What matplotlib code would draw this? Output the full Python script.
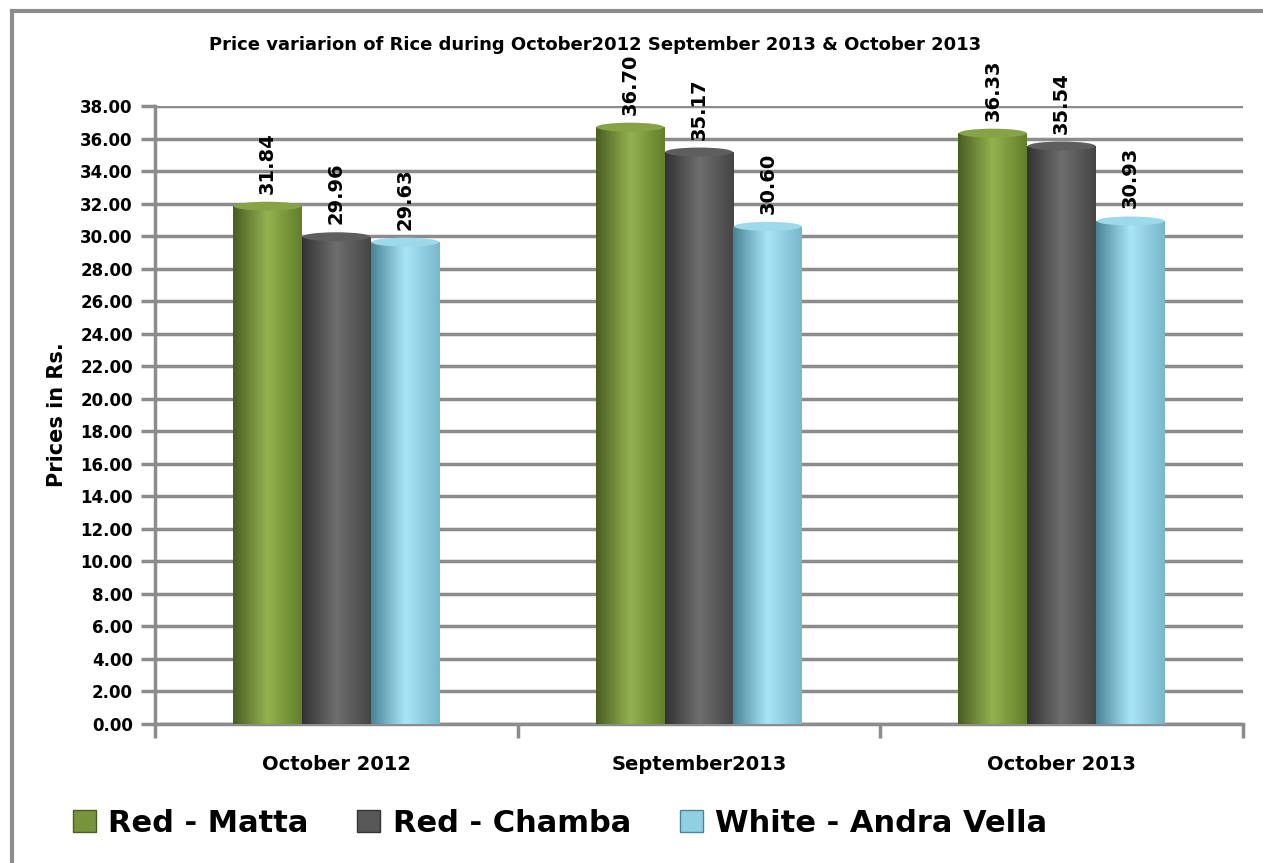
import matplotlib
matplotlib.use('Agg')
import matplotlib.pyplot as plt
import matplotlib.patches as patches
from matplotlib.lines import Line2D
import numpy as np

# Datos del gráfico
meses = ['October 2012', 'September2013', 'October 2013']
variedades = ['Red - Matta', 'Red - Chamba', 'White - Andra Vella']
red_matta = [31.84, 36.70, 36.33]
red_chamba = [29.96, 35.17, 35.54]
white_andra = [29.63, 30.60, 30.93]

# colores (borde oscuro, centro claro, borde derecho)
colores = [['#4a5e22', '#93b24f', '#61802a'],
           ['#333333', '#6e6e6e', '#454545'],
           ['#4a8596', '#a8e6f7', '#78b8ca']]
base_colores = ['#77933c', '#575757', '#8fd0e2']
tapas = ['#86a346', '#5e5e5e', '#9cd9ea']

gris = '#8c8c8c'

fig = plt.figure(figsize=(12.63, 8.63), dpi=100)
ax = fig.add_axes([155 / 1263, 1 - 724 / 863, 1088 / 1263, 618 / 863])

x = np.arange(len(meses))
ancho = 0.19
series = [red_matta, red_chamba, white_andra]

# degradado horizontal para simular cilindros
t = np.linspace(0, 1, 64)
for i, valores in enumerate(series):
    barras = ax.bar(x + (i - 1) * ancho, valores, ancho, color=base_colores[i],
                    zorder=3, label=variedades[i])
    c0, c1, c2 = [np.array(matplotlib.colors.to_rgb(c)) for c in colores[i]]
    grad = np.where(t[:, None] < 0.5,
                    c0 + (c1 - c0) * (t[:, None] / 0.5),
                    c1 + (c2 - c1) * ((t[:, None] - 0.5) / 0.5))
    grad = grad[None, :, :]
    for b in barras:
        bx, by = b.get_x(), b.get_y()
        bw, bh = b.get_width(), b.get_height()
        im = ax.imshow(grad, extent=[bx, bx + bw, by, by + bh], aspect='auto',
                       zorder=3.5, interpolation='bilinear')
        im.set_clip_path(b)
        # tapa superior del cilindro
        ax.add_patch(patches.Ellipse((bx + bw / 2, by + bh), bw * 0.98, 0.55,
                                     facecolor=tapas[i], edgecolor='none', zorder=4))
    ax.bar_label(barras, fmt='%.2f', rotation=90, padding=9, fontsize=14,
                 fontweight='bold', clip_on=False)

ax.set_xlim(-0.5, 2.5)
ax.set_ylim(0, 38)
ax.set_yticks(np.arange(0, 39, 2))
ax.set_yticklabels(['%.2f' % v for v in np.arange(0, 39, 2)],
                   fontsize=12, fontweight='bold')
ax.set_xticks(x)
ax.set_xticklabels(meses, fontsize=14, fontweight='bold')
ax.tick_params(axis='x', which='major', length=0, pad=22)
ax.set_xticks([-0.5, 0.5, 1.5, 2.5], minor=True)
ax.tick_params(axis='x', which='minor', length=10, width=2.5, color=gris)
ax.tick_params(axis='y', length=10, width=2.5, color=gris, pad=6)

ax.grid(axis='y', color=gris, linewidth=2.5, zorder=0)
ax.set_axisbelow(True)
for lado in ['top', 'right']:
    ax.spines[lado].set_visible(False)
for lado in ['left', 'bottom']:
    ax.spines[lado].set_color(gris)
    ax.spines[lado].set_linewidth(2.5)

fig.text(57 / 1263, 1 - 415 / 863, 'Prices in Rs.', rotation=90, ha='center',
         va='center', fontsize=15, fontweight='bold')
fig.text(595 / 1263, 1 - 45 / 863,
         'Price variarion of Rice during October2012 September 2013 & October 2013',
         ha='center', va='center', fontsize=13, fontweight='bold')

# leyenda
handles = [patches.Patch(facecolor=base_colores[i], edgecolor=colores[i][0],
                         label=variedades[i]) for i in range(3)]
fig.legend(handles=handles, loc='center', bbox_to_anchor=(560 / 1263, 1 - 823 / 863),
           ncol=3, frameon=False, prop={'weight': 'bold', 'size': 22},
           handlelength=0.75, handleheight=0.75, handletextpad=0.4, columnspacing=1.6)

# marco exterior
fig.add_artist(Line2D([12 / 1263, 12 / 1263], [0, 1 - 11 / 863], color=gris, linewidth=3))
fig.add_artist(Line2D([12 / 1263, 1], [1 - 11 / 863, 1 - 11 / 863], color=gris, linewidth=3))

fig.savefig('out.png', dpi=100)
